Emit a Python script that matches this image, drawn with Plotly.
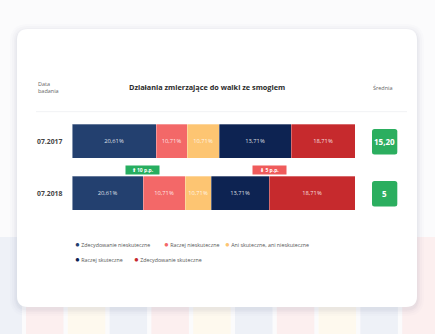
import plotly.graph_objects as go

# ---------------- data ----------------
dates = ["07.2017", "07.2018"]
categories = ["Zdecydowanie nieskuteczne", "Raczej nieskuteczne",
              "Ani skuteczne, ani nieskuteczne", "Raczej skuteczne",
              "Zdecydowanie skuteczne"]
shares_2017 = [29.5, 11.2, 11.2, 25.5, 22.6]
shares_2018 = [24.9, 14.8, 9.4, 20.4, 30.5]
bar_labels = ["20,61%", "10,71%", "10,71%", "13,71%", "18,71%"]
averages = ["15,20", "5"]
change_labels = ["⬆ 10 p.p.", "⬇ 5 p.p."]
change_after_segment = [1, 4]   # badge sits at boundary after n segments of 2018
title_text = "Działania zmierzające do walki ze smogiem"

# ---------------- style ----------------
colors = ["#23406f", "#f36868", "#fdc572", "#0d2352", "#c62a2d"]
badge_colors = ["#27ae60", "#ef5b5b"]
avg_color = "#2bae5f"
W, H = 435, 334
FONT = "Open Sans"


def px(x):
    return x / W


def py(y):
    return 1 - y / H


def rrect(x0, y0, x1, y1, r):
    """rounded rectangle path in paper coords from pixel values"""
    pts = []
    pts.append(f"M {px(x0 + r)},{py(y0)}")
    pts.append(f"L {px(x1 - r)},{py(y0)}")
    pts.append(f"Q {px(x1)},{py(y0)} {px(x1)},{py(y0 + r)}")
    pts.append(f"L {px(x1)},{py(y1 - r)}")
    pts.append(f"Q {px(x1)},{py(y1)} {px(x1 - r)},{py(y1)}")
    pts.append(f"L {px(x0 + r)},{py(y1)}")
    pts.append(f"Q {px(x0)},{py(y1)} {px(x0)},{py(y1 - r)}")
    pts.append(f"L {px(x0)},{py(y0 + r)}")
    pts.append(f"Q {px(x0)},{py(y0)} {px(x0 + r)},{py(y0)}")
    pts.append("Z")
    return " ".join(pts)


fig = go.Figure()
for i, cat in enumerate(categories):
    fig.add_trace(go.Bar(
        y=dates, x=[shares_2017[i], shares_2018[i]], orientation="h",
        name=cat, marker=dict(color=colors[i], line=dict(color="rgba(255,255,255,0.6)", width=0.5)),
        text=[bar_labels[i]] * 2, textposition="inside", insidetextanchor="middle",
        textangle=0, constraintext="none",
        textfont=dict(size=5.8, color="rgba(255,255,255,0.85)", family=FONT),
        width=0.645, showlegend=False, hoverinfo="skip",
    ))

shapes = []
# background blocks at bottom
shapes.append(dict(type="rect", xref="paper", yref="paper", x0=px(0), x1=px(22),
                   y0=py(334), y1=py(237), fillcolor="#eef1f7", line=dict(width=0), layer="below"))
block_cols = ["#fcefef", "#fef9ee", "#eef1f7"]
for k in range(10):
    x0 = 26 + k * 41.8
    shapes.append(dict(type="rect", xref="paper", yref="paper", x0=px(x0), x1=px(min(x0 + 37.5, W)),
                       y0=py(334), y1=py(237), fillcolor=block_cols[k % 3], line=dict(width=0), layer="below"))
# card shadow
for g, op in [(7, 0.025), (5, 0.03), (3, 0.04), (1.5, 0.05)]:
    shapes.append(dict(type="path", xref="paper", yref="paper",
                       path=rrect(17 - g, 29 - g + 2, 417 + g, 307 + g + 2, 11 + g),
                       fillcolor=f"rgba(120,135,165,{op})", line=dict(width=0), layer="below"))
# card
shapes.append(dict(type="path", xref="paper", yref="paper", path=rrect(17, 29, 417, 307, 11),
                   fillcolor="#ffffff", line=dict(width=0), layer="below"))
# separator
shapes.append(dict(type="line", xref="paper", yref="paper", x0=px(36), x1=px(407), y0=py(111.7), y1=py(111.7),
                   line=dict(color="#f1f2f4", width=1), layer="below"))
# average boxes
for yc in [141.7, 193.7]:
    shapes.append(dict(type="path", xref="paper", yref="paper",
                       path=rrect(372, yc - 12.8, 397.3, yc + 12.8, 2.5),
                       fillcolor=avg_color, line=dict(width=0), layer="below"))

ann = []
ann.append(dict(text="Data<br>badania", x=px(36), y=py(87.5), xref="paper", yref="paper",
                xanchor="left", yanchor="middle", align="left", showarrow=False,
                font=dict(size=5.5, color="#666", family=FONT)))
ann.append(dict(text=f"<b>{title_text}</b>", x=px(206.5), y=py(86.7), xref="paper", yref="paper",
                xanchor="center", yanchor="middle", showarrow=False,
                font=dict(size=7.3, color="#2b2b2b", family=FONT)))
ann.append(dict(text="Średnia", x=px(383), y=py(88), xref="paper", yref="paper",
                xanchor="center", yanchor="middle", showarrow=False,
                font=dict(size=5.5, color="#666", family=FONT)))
# average values (category axis -> use serial index)
for idx, v in enumerate(averages):
    ann.append(dict(text=f"<b>{v}</b>", x=px(384.6), xref="paper", y=idx, yref="y",
                    xanchor="center", yanchor="middle", showarrow=False,
                    font=dict(size=8, color="white", family=FONT)))
# change badges
for lab, n, c in zip(change_labels, change_after_segment, badge_colors):
    ann.append(dict(text=f"<b>{lab}</b>", x=sum(shares_2018[:n]), xref="x", y=py(170), yref="paper",
                    xanchor="center", yanchor="middle", showarrow=False, bgcolor=c,
                    width=31, height=6, borderpad=1.2,
                    font=dict(size=5, color="white", family=FONT)))
# legend (custom, dot + text)
legend_pos = [(72.5, 243.3), (161.5, 243.3), (223.2, 243.3), (72.5, 258.3), (131.8, 258.3)]
for cat, col, (lx, ly) in zip(categories, colors, legend_pos):
    ann.append(dict(text=f"<span style='color:{col};font-size:8px'>●</span> {cat}", x=px(lx), y=py(ly),
                    xref="paper", yref="paper", xanchor="left", yanchor="middle", showarrow=False,
                    font=dict(size=5.3, color="#555", family=FONT)))

fig.update_layout(
    width=W, height=H, margin=dict(l=0, r=0, t=0, b=0),
    paper_bgcolor="#fbfbfc", plot_bgcolor="rgba(0,0,0,0)",
    barmode="stack", bargap=0,
    shapes=shapes, annotations=ann,
    xaxis=dict(range=[0, 100], domain=[72.3 / W, 355.7 / W], visible=False, fixedrange=True),
    yaxis=dict(type="category", categoryorder="array", categoryarray=dates,
               range=[1.5, -0.5], domain=[py(219.75), py(115.55)],
               showgrid=False, zeroline=False, showline=False, ticks="",
               ticklabelstandoff=9,
               tickfont=dict(size=6.8, color="#444", family=FONT, weight="bold"), fixedrange=True),
    font=dict(family=FONT),
)

fig.write_html("out.html")
